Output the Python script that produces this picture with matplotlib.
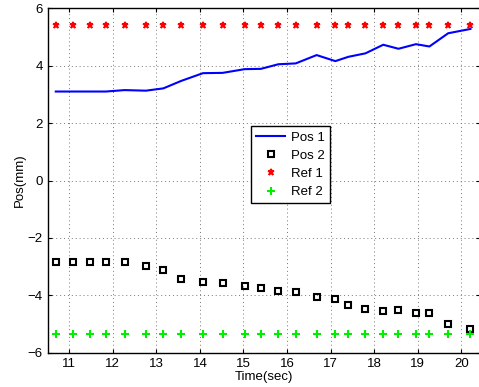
import numpy as np
import matplotlib
matplotlib.use('Agg')
import matplotlib.pyplot as plt

plt.rcParams['font.family'] = ['Liberation Sans', 'DejaVu Sans']

# sample times (sec)
t = [10.69, 11.09, 11.48, 11.84, 12.27, 12.76, 13.16, 13.57, 14.07, 14.52,
     15.03, 15.40, 15.80, 16.20, 16.68, 17.11, 17.41, 17.80, 18.21, 18.56,
     18.96, 19.27, 19.70, 20.21]

pos1 = [3.10, 3.10, 3.10, 3.10, 3.15, 3.13, 3.21, 3.47, 3.74, 3.75,
        3.88, 3.89, 4.05, 4.08, 4.37, 4.16, 4.31, 4.43, 4.73, 4.59,
        4.75, 4.67, 5.13, 5.28]

pos2 = [-2.83, -2.83, -2.83, -2.83, -2.83, -2.98, -3.13, -3.44, -3.55, -3.56,
        -3.69, -3.76, -3.84, -3.90, -4.07, -4.14, -4.35, -4.46, -4.56, -4.52,
        -4.60, -4.60, -4.99, -5.17]

ref1 = [5.42] * len(t)
ref2 = [-5.36] * len(t)

xticks = [11, 12, 13, 14, 15, 16, 17, 18, 19, 20]
yticks = [-6, -4, -2, 0, 2, 4, 6]

fig = plt.figure(figsize=(4.79, 3.87), dpi=100)
ax = fig.add_axes([47.5/479, 1 - 352.7/387, (479.5 - 47.5)/479, (352.7 - 8.3)/387])

ax.plot(t, pos1, '-', color='#0000ff', lw=1.5, label='Pos 1')
ax.plot(t, pos2, 's', mfc='none', mec='black', mew=1.5, ms=4.5, label='Pos 2')
ax.plot(t, ref1, '*', color='#ff0000', mec='#ff0000', mew=1.2, ms=4.5, label='Ref 1')
ax.plot(t, ref2, '+', color='#00ee00', mew=1.5, ms=5.5, label='Ref 2')

ax.set_xlim(10.5, 20.42)
ax.set_ylim(-6, 6)
ax.set_xticks(xticks)
ax.set_yticks(yticks)
ax.tick_params(direction='in', length=3, top=True, right=True, labelsize=9.5, width=0.8)
ax.grid(True, linestyle=(0, (1, 3)), color='#777777', lw=0.7)
for s in ax.spines.values():
    s.set_linewidth(1.0)

ax.set_xlabel('Time(sec)', fontsize=9.5, labelpad=1)
ax.set_ylabel('Pos(mm)', fontsize=9.5, labelpad=1)

leg = ax.legend(loc='upper left', bbox_to_anchor=(0.471, 0.658), fontsize=9.5,
                fancybox=False, framealpha=1, edgecolor='black', borderaxespad=0,
                handlelength=2.2, borderpad=0.4, labelspacing=0.45, handletextpad=0.4)
leg.get_frame().set_linewidth(1.0)

fig.savefig('out.png', dpi=100)
